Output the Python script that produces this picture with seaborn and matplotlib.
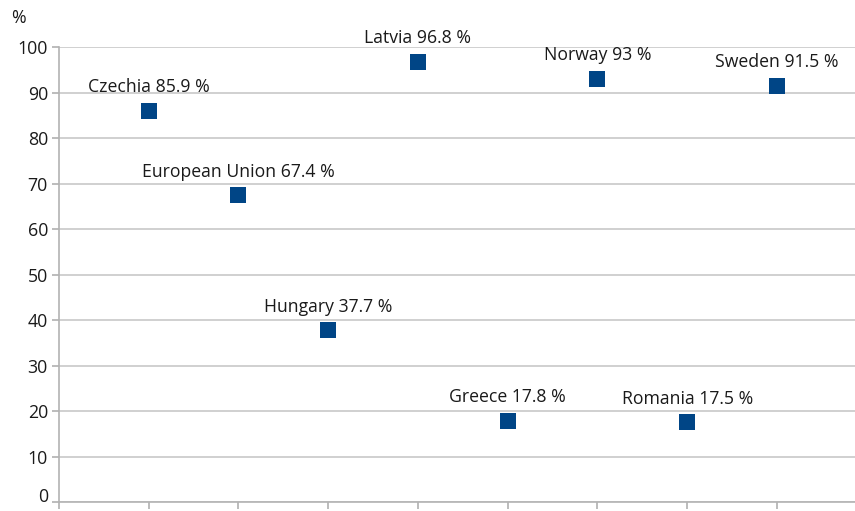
import matplotlib
matplotlib.use("Agg")
import matplotlib.pyplot as plt
import seaborn as sns
import pandas as pd

countries = ["Czechia", "European Union", "Hungary", "Latvia", "Greece", "Norway", "Romania", "Sweden"]
values = [85.9, 67.4, 37.7, 96.8, 17.8, 93.0, 17.5, 91.5]
value_labels = ["85.9", "67.4", "37.7", "96.8", "17.8", "93", "17.5", "91.5"]
y_ticks = [0, 10, 20, 30, 40, 50, 60, 70, 80, 90, 100]

sns.set_theme(style="white")
plt.rcParams["font.family"] = ["Open Sans", "DejaVu Sans"]

df = pd.DataFrame({"pos": range(1, len(countries) + 1), "value": values, "country": countries})

fig = plt.figure(figsize=(8.55, 5.11), dpi=100)
ax = fig.add_axes([59 / 855, 9 / 511, 1 - 59 / 855, 455 / 511])

sns.scatterplot(data=df, x="pos", y="value", marker="s", s=135, color="#004586",
                edgecolor="#004586", linewidth=0, ax=ax, zorder=3, legend=False)

for x, v, c, lab in zip(df["pos"], values, countries, value_labels):
    ax.annotate(f"{c} {lab} %", (x, v), xytext=(0, 13.5), textcoords="offset points",
                ha="center", va="baseline", fontsize=12.7, color="#1a1a1a")

ax.set_xlim(0, 8.87)
ax.set_ylim(0, 100)
ax.set_yticks(y_ticks)
ax.set_xticks(range(0, 9))
ax.set_xticklabels([])
ax.yaxis.grid(True, color="#c8c8c8", linewidth=1.2)
ax.set_axisbelow(True)
ax.tick_params(axis="y", length=5, color="#b3b3b3", labelsize=12.8, labelcolor="#1a1a1a", pad=3, direction="out", left=True)
ax.tick_params(axis="x", length=5, color="#b3b3b3", direction="out", bottom=True)
# keep the lowest tick label inside the figure
ax.yaxis.get_major_ticks()[0].label1.set_verticalalignment("baseline")
for side in ["top", "right"]:
    ax.spines[side].set_visible(False)
for side in ["left", "bottom"]:
    ax.spines[side].set_color("#b3b3b3")
    ax.spines[side].set_linewidth(1.2)
ax.set_xlabel("")
ax.set_ylabel("")
fig.text(18 / 855, 1 - 18 / 511, "%", fontsize=12.8, ha="center", va="center", color="#1a1a1a")

fig.savefig("out.png", dpi=100)
